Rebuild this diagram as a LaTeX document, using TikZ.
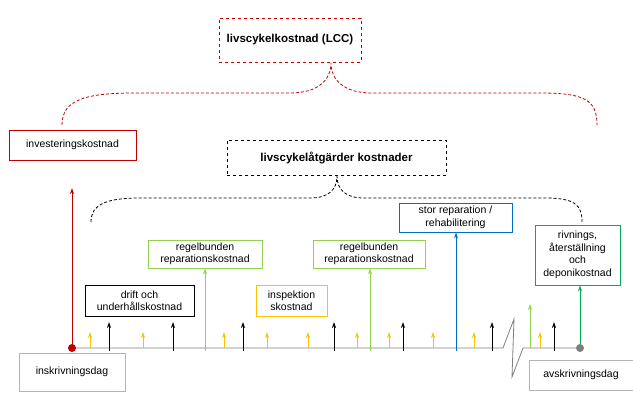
\documentclass[tikz,border=0pt]{standalone}
\usepackage{fontspec}
\setmainfont{Liberation Sans}
\usetikzlibrary{arrows.meta}
\definecolor{cred}{RGB}{192,0,0}
\definecolor{cyel}{RGB}{255,192,0}
\definecolor{clgr}{RGB}{146,208,80}
\definecolor{cdgr}{RGB}{0,176,80}
\definecolor{cblu}{RGB}{0,112,192}
\definecolor{cgry}{RGB}{128,128,128}
\begin{document}
\begin{tikzpicture}[x=1pt,y=-1pt,line width=0.8pt,
  box/.style={draw,rectangle,align=center,inner sep=0pt,font=\fontsize{10.5}{12.5}\selectfont},
  tip/.style={-{Stealth[length=6pt,width=4pt]}},
  brace/.style={dashed,dash pattern=on 3pt off 2pt}]
\useasboundingbox (0,0) rectangle (633,408);
% boxes
\node[box,cred,dashed,minimum width=142pt,minimum height=44pt,text=black,font=\fontsize{11.5}{13}\selectfont\bfseries] (lcc) at (290,40) {livscykelkostnad (LCC)};
\node[box,cred,minimum width=127pt,minimum height=30pt,text=black] (inv) at (72.5,145) {investeringskostnad};
\node[box,dashed,minimum width=219pt,minimum height=35pt,font=\fontsize{11.5}{13}\selectfont\bfseries] (lca) at (336.5,157.5) {livscykelåtgärder kostnader};
\node[box,cblu,minimum width=113pt,minimum height=29pt,text=black] (stor) at (455.5,217.5) {stor reparation /\\rehabilitering};
\node[box,cdgr,minimum width=85pt,minimum height=60pt,text=black] (riv) at (577.5,255) {rivnings,\\återställning\\och\\deponikostnad};
\node[box,clgr,minimum width=114pt,minimum height=28pt,text=black] (reg1) at (205,254) {regelbunden\\reparationskostnad};
\node[box,clgr,minimum width=112pt,minimum height=28pt,text=black] (reg2) at (369,254) {regelbunden\\reparationskostnad};
\node[box,minimum width=109pt,minimum height=31pt] (drift) at (139.5,300.5) {drift och\\underhållskostnad};
\node[box,cyel,minimum width=71pt,minimum height=31pt,text=black] (insp) at (291.5,300.5) {inspektion\\skostnad};
\node[box,cgry!60,minimum width=106pt,minimum height=38pt,text=black] (ink) at (72,372) {inskrivningsdag};
\node[box,cgry!60,minimum width=104pt,minimum height=30pt,text=black] (avk) at (581,375) {avskrivningsdag};
% braces
\coordinate (rl) at (62,125); \coordinate (rr) at (597,125); \coordinate (rt) at (331,63);
\draw[cred,brace] (rl) .. controls (62,100) and (85,93) .. (135,93) -- (290,93) .. controls (318,93) and (331,80) .. (rt)
  .. controls (331,80) and (344,93) .. (372,93) -- (540,93) .. controls (585,93) and (597,100) .. (rr);
\coordinate (bl) at (91,222); \coordinate (br) at (582,222); \coordinate (bt) at (337,176);
\draw[brace] (bl) .. controls (91,205) and (105,198) .. (140,198) -- (310,198) .. controls (328,198) and (337,190) .. (bt)
  .. controls (337,190) and (346,198) .. (364,198) -- (545,198) .. controls (575,198) and (582,205) .. (br);
% timeline
\coordinate (t0) at (72,348); \coordinate (tb1) at (503,348); \coordinate (z1) at (514,319);
\coordinate (z2) at (512,377); \coordinate (tb2) at (523,348); \coordinate (t1) at (580,348);
\draw[cgry] (t0) -- (tb1) -- (z1) -- (z2) -- (tb2) -- (t1);
% yellow arrows
\foreach \x in {90,143,224,267,308,357,389,433,474,540}
  \draw[cyel,tip] (\x,348) -- (\x,332);
% black arrows
\foreach \x in {109,173,243,334,403,492,554}
  \draw[tip] (\x,351) -- (\x,322);
% colored lines
\draw[clgr,tip] (205,351) -- (reg1.south);
\draw[clgr,tip] (370,351) -- (reg2.south -| 370,0);
\draw[cblu,tip] (456,351) -- (stor.south -| 456,0);
\draw[clgr,tip] (530,348) -- (530,304);
\draw[cdgr,tip] (t1) -- (riv.south -| t1);
\draw[cred,tip] (t0) -- (72,188);
\fill[cred] (t0) circle (4pt);
\fill[cgry] (t1) circle (4pt);
\end{tikzpicture}
\end{document}
